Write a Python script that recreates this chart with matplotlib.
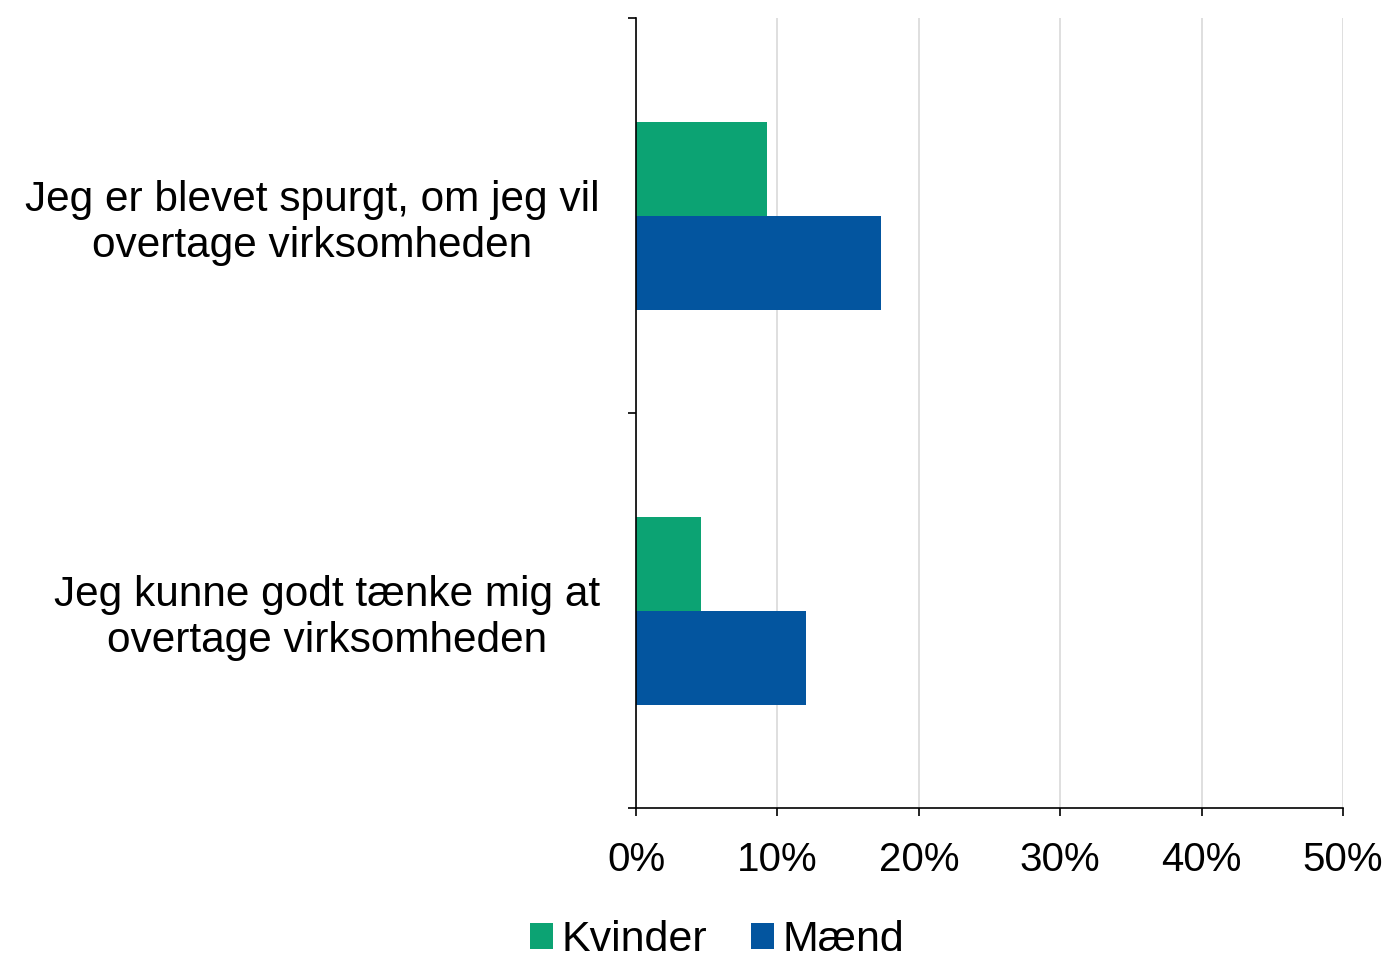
import matplotlib.pyplot as plt
import numpy as np
from matplotlib.ticker import FixedLocator, PercentFormatter

plt.rcParams['font.family'] = ['Liberation Sans', 'DejaVu Sans']

# -----------------------------
# Data
# -----------------------------
categories = ["Jeg er blevet spurgt, om jeg vil\novertage virksomheden",
              "Jeg kunne godt tænke mig at\novertage virksomheden"]
kvinder = [9.3, 4.6]
maend = [17.3, 12.0]
series_names = ["Kvinder", "Mænd"]
colors = ["#0ca373", "#03559f"]

# -----------------------------
# Plot
# -----------------------------
fig = plt.figure(figsize=(13.91, 9.6), dpi=100)
ax = fig.add_axes([0.4572, 0.1583, 0.5083, 0.8229])

y = np.arange(len(categories))
h = 0.238
ax.barh(y - h / 2, kvinder, height=h, color=colors[0], label=series_names[0])
ax.barh(y + h / 2, maend, height=h, color=colors[1], label=series_names[1])

ax.set_xlim(0, 50)
ax.set_ylim(1.5, -0.5)
ax.xaxis.set_major_locator(FixedLocator([0, 10, 20, 30, 40, 50]))
ax.xaxis.set_major_formatter(PercentFormatter(decimals=0))
ax.grid(axis='x', color='#d9d9d9', linewidth=1.2)
ax.set_axisbelow(True)

ax.set_yticks(y)
ax.set_yticklabels(categories, fontsize=30.5, multialignment='center', linespacing=1.18)
ax.set_yticks([-0.5, 0.5, 1.5], minor=True)
ax.tick_params(axis='y', which='major', length=0, pad=26)
ax.tick_params(axis='y', which='minor', length=6, width=1.2)
ax.tick_params(axis='x', length=6, width=1.2, labelsize=29, pad=18)

for s in ['top', 'right']:
    ax.spines[s].set_visible(False)
for s in ['left', 'bottom']:
    ax.spines[s].set_linewidth(1.2)

fig.legend(loc='center', bbox_to_anchor=(0.5155, 0.021), ncol=2, frameon=False,
           fontsize=31, handlelength=0.55, handleheight=0.55, handletextpad=0.2,
           columnspacing=1.0, borderpad=0, bbox_transform=fig.transFigure)

fig.savefig("out.png", dpi=100)
